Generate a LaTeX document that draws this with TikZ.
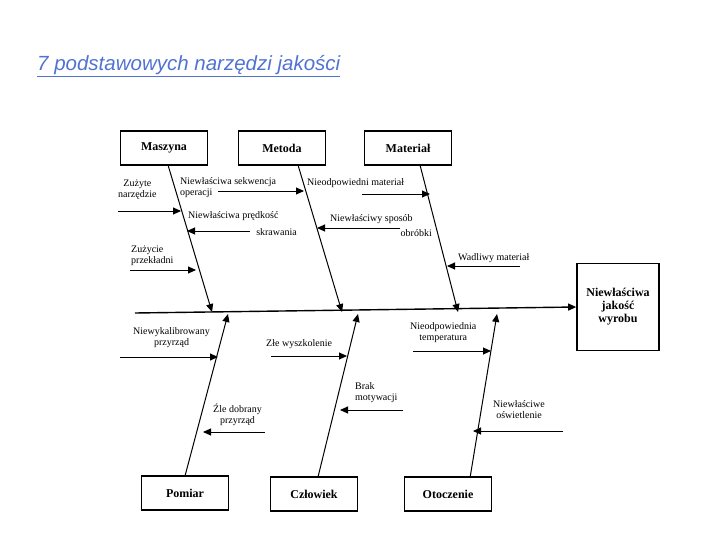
\documentclass[tikz,border=0pt]{standalone}
\usepackage{fontspec}
\setmainfont{Liberation Serif}
\newfontfamily\sans{Liberation Sans}
\usetikzlibrary{arrows.meta}
\definecolor{linkblue}{RGB}{80,115,210}
\begin{document}
\begin{tikzpicture}[x=1pt,y=-1pt,
 box/.style={draw,line width=1.6pt,minimum width=87pt,minimum height=34pt,font=\bfseries\fontsize{12}{13}\selectfont,inner sep=1pt},
 bone/.style={line width=1pt,-{Triangle[length=8pt,width=7pt]}},
 cause/.style={line width=0.9pt,-{Triangle[length=8pt,width=7pt]}},
 lbl/.style={font=\fontsize{10}{11}\selectfont,inner sep=0pt,align=center}]
\useasboundingbox (0,0) rectangle (720,540);
\node[anchor=west,inner sep=0,text=linkblue,font=\sans\itshape\fontsize{20.5}{22}\selectfont] (title) at (37,66) {\underline{7 podstawowych narzędzi jakości}};
\node[box] (masz) at (164,148) {Maszyna};
\node[box] (met) at (282,148) {Metoda};
\node[box] (mat) at (408,148) {Materiał};
\node[box,minimum width=82pt,minimum height=87pt,align=center] (wyn) at (618,307) {Niewłaściwa\\jakość\\wyrobu};
\node[box] (pom) at (185,493) {Pomiar};
\node[box] (czl) at (314,494) {Człowiek};
\node[box] (oto) at (448,494) {Otoczenie};
\coordinate (s0) at (135,313);
\draw[line width=1.4pt,-{Triangle[length=8pt,width=7pt]}] (s0) -- (wyn.west);
\coordinate (t1) at (212,312); \coordinate (t2) at (342,312); \coordinate (t3) at (458,312);
\coordinate (b1) at (228,314); \coordinate (b2) at (358,314); \coordinate (b3) at (497,314);
\draw[bone] (168,165) -- (t1);
\draw[bone] (298,165) -- (t2);
\draw[bone] (420,165) -- (t3);
\draw[bone] (185,476) -- (b1);
\draw[bone] (318,477) -- (b2);
\draw[bone] (470,478) -- (b3);
% causes top
\node[lbl,anchor=north west] (c1) at (118,180) {Zużyte\\narzędzie};
\draw[cause] (118,211) -- (181,211);
\node[lbl,anchor=north west,align=left] (c2) at (180,177) {Niewłaściwa sekwencja\\operacji};
\draw[cause] (218,191) -- (304,191);
\node[lbl,anchor=west] (c3) at (188,216) {Niewłaściwa prędkość};
\node[lbl,anchor=east] (c3b) at (297,232) {skrawania};
\draw[cause] (250,231) -- (187,231);
\node[lbl,anchor=north west,align=left] (c4) at (131,246) {Zużycie\\przekładni};
\draw[cause] (130,270) -- (196,270);
\node[lbl,anchor=west] (c5) at (307,183) {Nieodpowiedni materiał};
\draw[cause] (362,194) -- (430,194);
\node[lbl,anchor=west] (c6) at (330,219) {Niewłaściwy sposób};
\node[lbl,anchor=east] (c6b) at (432,233) {obróbki};
\draw[cause] (400,228) -- (317,228);
\node[lbl,anchor=west] (c7) at (458,258) {Wadliwy materiał};
\draw[cause] (520,266) -- (447,266);
% causes bottom
\node[lbl,anchor=north west] (d1) at (133,327) {Niewykalibrowany\\przyrząd};
\draw[cause] (120,357) -- (218,357);
\node[lbl,anchor=west] (d2) at (266,344) {Złe wyszkolenie};
\draw[cause] (271,356) -- (347,356);
\node[lbl,anchor=north west] (d3) at (410,322) {Nieodpowiednia\\temperatura};
\draw[cause] (413,351) -- (491,351);
\node[lbl,anchor=north west,align=left] (d4) at (355,382) {Brak\\motywacji};
\draw[cause] (403,410) -- (340,410);
\node[lbl,anchor=north west] (d5) at (213,404) {Źle dobrany\\przyrząd};
\draw[cause] (265,432) -- (203,432);
\node[lbl,anchor=north west] (d6) at (493,400) {Niewłaściwe\\oświetlenie};
\draw[cause] (563,431) -- (473,431);
\end{tikzpicture}
\end{document}
